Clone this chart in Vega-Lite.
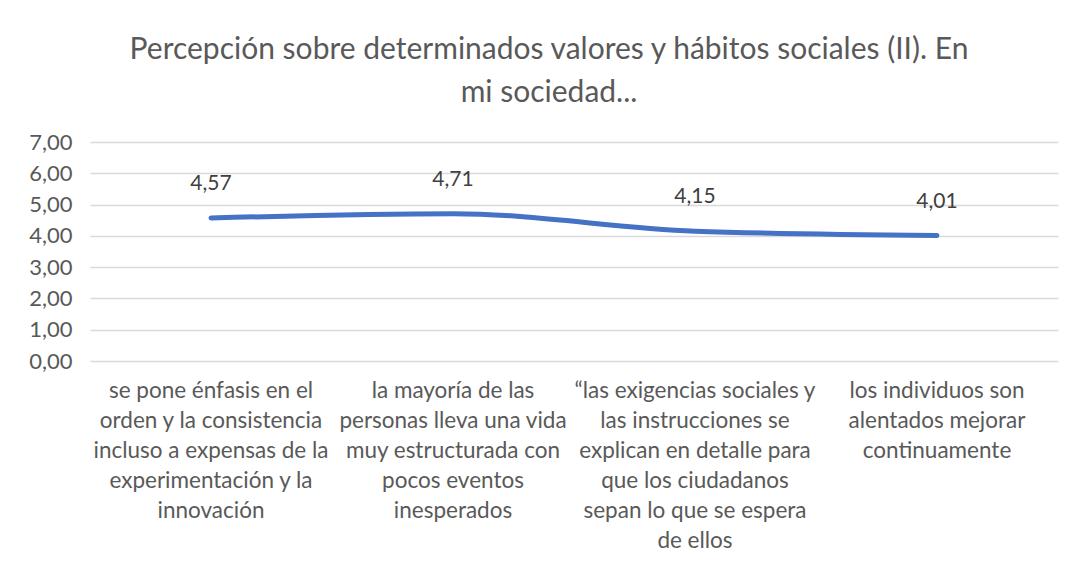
{
  "$schema": "https://vega.github.io/schema/vega-lite/v6.json",
  "width": 968,
  "height": 219,
  "autosize": {"type": "none"},
  "padding": {"left": 90, "top": 142, "right": 23, "bottom": 201},
  "background": "white",
  "title": {
    "text": ["Percepción sobre determinados valores y hábitos sociales (II). En", "mi sociedad..."],
    "font": "Lato",
    "fontSize": 30,
    "fontWeight": "normal",
    "color": "#595959",
    "lineHeight": 43,
    "anchor": "middle",
    "frame": "group",
    "dx": -25,
    "offset": 23
  },
  "data": {
    "values": [
      {"label": "se pone énfasis en el|orden y la consistencia|incluso a expensas de la|experimentación y la|innovación", "order": 1, "value": 4.57},
      {"label": "la mayoría de las|personas lleva una vida|muy estructurada con|pocos eventos|inesperados", "order": 2, "value": 4.71},
      {"label": "“las exigencias sociales y|las instrucciones se|explican en detalle para|que los ciudadanos|sepan lo que se espera|de ellos", "order": 3, "value": 4.15},
      {"label": "los individuos son|alentados mejorar|continuamente", "order": 4, "value": 4.01}
    ]
  },
  "encoding": {
    "x": {
      "field": "label",
      "type": "nominal",
      "sort": {"field": "order"},
      "scale": {"type": "band", "paddingInner": 0, "paddingOuter": 0},
      "axis": {
        "title": null,
        "labelAngle": 0,
        "labelExpr": "split(datum.value, '|')",
        "labelFont": "Lato",
        "labelFontSize": 22.5,
        "labelColor": "#595959",
        "labelLineHeight": 30,
        "labelBaseline": "top",
        "labelPadding": 18,
        "labelLimit": 0,
        "ticks": false,
        "domain": false,
        "grid": false
      }
    },
    "y": {
      "field": "value",
      "type": "quantitative",
      "scale": {"domain": [0, 7], "nice": false},
      "axis": {
        "title": null,
        "values": [0, 1, 2, 3, 4, 5, 6, 7],
        "labelExpr": "replace(format(datum.value, '.2f'), '.', ',')",
        "labelFont": "Lato",
        "labelFontSize": 22,
        "labelColor": "#595959",
        "labelPadding": 18,
        "ticks": false,
        "domain": false,
        "gridColor": "#d9d9d9",
        "gridWidth": 1.5
      }
    }
  },
  "layer": [
    {
      "mark": {"type": "line", "interpolate": "monotone", "color": "#4472C4", "strokeWidth": 5, "strokeCap": "round"}
    },
    {
      "mark": {"type": "text", "font": "Lato", "fontSize": 21, "color": "#404040", "baseline": "middle", "dy": -34},
      "encoding": {
        "text": {"field": "value", "type": "quantitative", "format": ".2f", "formatType": "number"}
      }
    }
  ],
  "config": {
    "view": {"stroke": null},
    "locale": {"number": {"decimal": ",", "thousands": ".", "grouping": [3], "currency": ["", " €"]}}
  }
}
